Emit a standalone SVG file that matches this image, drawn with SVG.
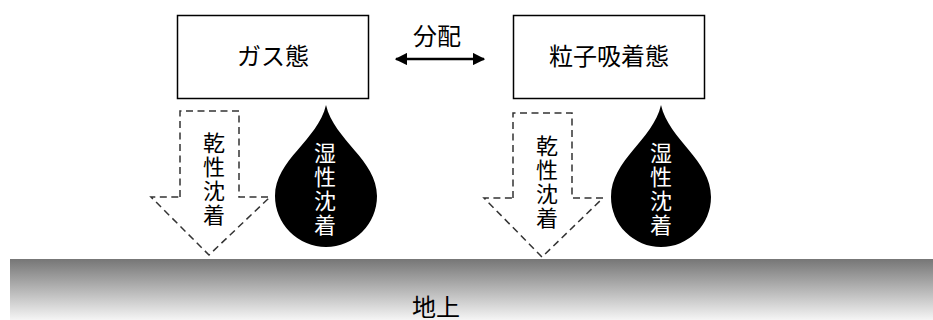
<svg xmlns="http://www.w3.org/2000/svg" width="933" height="320" viewBox="0 0 933 320">
<defs>
<linearGradient id="ground" x1="0" y1="0" x2="0" y2="1">
<stop offset="0" stop-color="#767676"/>
<stop offset="1" stop-color="#f5f5f5"/>
</linearGradient>
<marker id="ah" viewBox="0 0 10 10" refX="9" refY="5" markerWidth="5" markerHeight="5" orient="auto-start-reverse" markerUnits="strokeWidth">
<path d="M0,0 L10,5 L0,10 Z" fill="#000"/>
</marker>
</defs>
<style>
text{font-family:"Noto Sans CJK JP","Noto Sans CJK SC",sans-serif;text-anchor:middle;fill:#000}
.box{fill:#fff;stroke:#000;stroke-width:1.5}
.lbl{font-size:24px}
.vt{font-size:22px}
.wt{font-size:22px;fill:#fff}
.dry{fill:none;stroke:#333;stroke-width:1.5;stroke-dasharray:7 4.5}
.drop{fill:#000}
</style>
<rect id="ground-area" x="10" y="259" width="923" height="61" fill="url(#ground)"/>
<text x="436" y="316" class="lbl">地上</text>
<g id="node-gas">
<rect class="box" x="177.5" y="15.5" width="191" height="83"/>
<text x="273" y="65" class="lbl">ガス態</text>
</g>
<g id="node-particle">
<rect class="box" x="513.5" y="15.5" width="191" height="83"/>
<text x="609" y="65" class="lbl">粒子吸着態</text>
</g>
<g id="connectors">
<line x1="396" y1="59" x2="484" y2="59" stroke="#000" stroke-width="2.5" marker-start="url(#ah)" marker-end="url(#ah)"/>
<text x="437" y="45" class="lbl">分配</text>
</g>
<g id="dry-gas">
<path class="dry" d="M180,197 L180,111 L239,111 L239,197 L270,197 L209,255 L151,197 Z"/>
<text class="vt"><tspan x="214" y="151">乾</tspan><tspan x="214" y="175">性</tspan><tspan x="214" y="199">沈</tspan><tspan x="214" y="223">着</tspan></text>
</g>
<g id="wet-gas">
<path class="drop" d="M326,105 C334,140 377,160 377,196 A51,51 0 0 1 275,196 C275,160 318,140 326,105 Z"/>
<text class="wt"><tspan x="325" y="161">湿</tspan><tspan x="325" y="185">性</tspan><tspan x="325" y="209">沈</tspan><tspan x="325" y="233">着</tspan></text>
</g>
<g id="dry-particle">
<path class="dry" d="M513,198 L513,113 L572,113 L572,198 L603,198 L542,257 L484,198 Z"/>
<text class="vt"><tspan x="547" y="154">乾</tspan><tspan x="547" y="178">性</tspan><tspan x="547" y="202">沈</tspan><tspan x="547" y="226">着</tspan></text>
</g>
<g id="wet-particle">
<path class="drop" d="M661,105 C669,140 711,160 711,197 A50,50 0 0 1 611,197 C611,160 653,140 661,105 Z"/>
<text class="wt"><tspan x="661" y="161">湿</tspan><tspan x="661" y="185">性</tspan><tspan x="661" y="209">沈</tspan><tspan x="661" y="233">着</tspan></text>
</g>
</svg>
